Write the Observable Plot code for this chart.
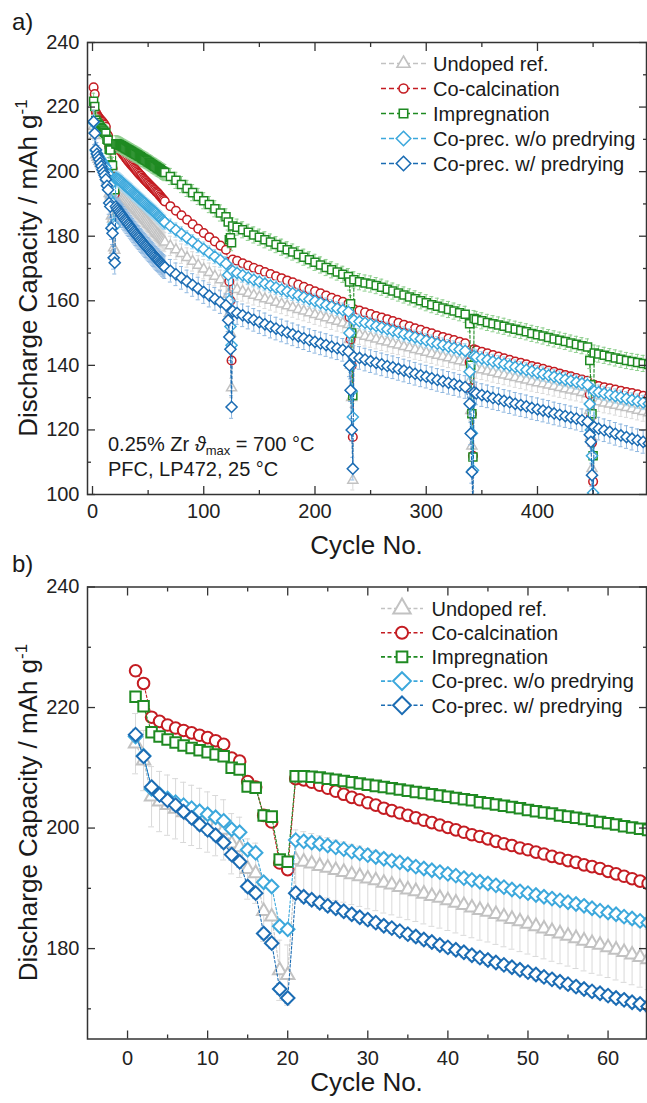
<!DOCTYPE html>
<html><head><meta charset="utf-8">
<script src="https://cdn.jsdelivr.net/npm/d3@7"></script>
<script src="https://cdn.jsdelivr.net/npm/@observablehq/plot@0.6"></script>
<style>
body{margin:0;background:#fff;}
#chart svg{display:block;overflow:visible;}
</style></head><body><div id="chart"></div>
<script>
// ---------- DATA ----------
const seriesNames = ["Undoped ref.", "Co-calcination", "Impregnation", "Co-prec. w/o predrying", "Co-prec. w/ predrying"];

const cyclesEarly = [1,2,3,4,5,6,7,8,9,10,11,12,13,14,15,16,17,18,19,20,21,22,23,24,25,26,27,28,29,30,31,32,33,34,35,36,37,38,39,40,41,42,43,44,45,46,47,48,49,50,51,52,53,54,55,56,57,58,59,60,61,62,63,64,65];

const undopedEarly = [214.0,211.2,205.2,204.4,203.8,203.2,202.6,202.1,201.6,201.0,200.4,199.7,197.4,196.8,193.2,192.5,186.2,185.3,176.4,175.6,
  194.7,194.4,194.1,193.7,193.4,193.0,192.7,192.3,192.0,191.6,191.3,190.9,190.6,190.2,189.8,189.5,189.1,188.7,188.4,188.0,
  187.6,187.2,186.8,186.4,186.1,185.7,185.3,184.9,184.5,184.1,183.7,183.3,182.9,182.5,182.1,181.7,181.3,180.9,180.6,180.2,
  179.8,179.4,179.0,178.6,178.2];
const cocalcEarly = [226.1,224.0,218.4,217.7,217.1,216.6,216.2,215.8,215.4,215.0,214.5,213.9,211.6,211.1,207.7,206.8,202.1,201.0,194.2,193.1,
  208.2,208.0,207.6,207.1,206.6,206.1,205.6,205.1,204.7,204.2,203.8,203.3,202.9,202.5,202.1,201.7,201.3,200.9,200.5,200.1,
  199.7,199.3,198.9,198.6,198.2,197.8,197.4,197.1,196.7,196.4,196.0,195.7,195.3,195.0,194.6,194.3,193.9,193.6,193.3,192.8,
  192.4,192.0,191.6,191.2,190.8];
const impregEarly = [221.8,220.2,215.9,215.2,214.7,214.2,213.7,213.3,212.9,212.6,212.2,211.9,210.0,209.7,206.9,206.7,202.1,201.9,194.8,194.4,
  208.6,208.6,208.5,208.4,208.2,208.0,207.8,207.6,207.4,207.2,207.0,206.8,206.6,206.4,206.2,206.0,205.8,205.6,205.4,205.2,
  205.0,204.8,204.6,204.3,204.1,203.9,203.7,203.5,203.3,203.0,202.8,202.6,202.4,202.1,201.9,201.7,201.5,201.2,201.0,200.8,
  200.6,200.3,200.1,199.9,199.7];
const coprecWoEarly = [215.2,212.0,206.5,205.6,204.9,204.3,203.8,203.3,202.8,202.3,201.8,201.2,199.8,199.3,196.4,195.9,191.0,190.3,183.7,183.2,
  198.0,197.8,197.6,197.4,197.1,196.8,196.5,196.1,195.8,195.5,195.2,194.9,194.6,194.3,194.0,193.6,193.3,193.0,192.7,192.4,
  192.1,191.7,191.4,191.1,190.8,190.5,190.2,189.8,189.5,189.2,188.9,188.6,188.3,188.0,187.7,187.4,187.1,186.7,186.3,186.0,
  185.7,185.3,185.0,184.6,184.3];
const coprecWEarly = [215.5,211.9,206.8,205.5,204.6,203.8,202.7,201.7,200.6,199.7,198.8,197.6,195.6,194.4,190.3,189.2,182.5,180.9,173.3,171.8,
  189.2,188.6,188.1,187.6,187.1,186.7,186.2,185.7,185.2,184.8,184.3,183.8,183.4,182.9,182.4,182.0,181.5,181.1,180.6,180.2,
  179.8,179.4,178.9,178.5,178.1,177.7,177.3,176.9,176.5,176.1,175.7,175.3,174.9,174.5,174.1,173.7,173.3,172.9,172.6,172.2,
  171.8,171.5,171.1,170.8,170.4];

const cyclesLong = [70,75,80,85,90,95,100,105,110,115,120,
  122,123,124,125,
  126,130,135,140,145,150,155,160,165,170,175,180,185,190,195,200,205,210,215,220,225,230,
  231,232,233,234,
  235,240,245,250,255,260,265,270,275,280,285,290,295,300,305,310,315,320,325,330,335,
  339,340,341,342,
  343,345,350,355,360,365,370,375,380,385,390,395,400,405,410,415,420,425,430,435,440,445,
  447,448,449,450,
  451,455,460,465,470,475,480,485,490,495,500];

const undopedLong = [177.0,175.8,174.6,173.4,172.2,171.0,169.8,168.7,167.6,166.5,165.4,
  162.0,156.0,150.0,133.0,
  164.0,163.5,162.9,162.3,161.7,161.2,160.6,160.1,159.5,159.0,158.4,157.9,157.3,156.8,156.3,155.7,155.2,154.7,154.1,153.6,153.1,152.6,
  148.0,140.0,130.0,104.4,
  150.0,149.5,149.0,148.6,148.1,147.6,147.2,146.7,146.3,145.8,145.4,144.9,144.5,144.0,143.6,143.1,142.7,142.3,141.8,141.4,141.0,
  135.0,126.0,115.0,98.0,
  139.4,139.0,138.6,138.2,137.8,137.4,137.0,136.6,136.2,135.8,135.4,135.0,134.6,134.3,133.9,133.5,133.1,132.7,132.3,132.0,131.6,131.2,
  126.0,118.0,108.0,93.0,
  129.0,128.7,128.3,128.0,127.6,127.2,126.9,126.5,126.1,125.7,125.3];
const cocalcLong = [189.3,187.9,186.5,185.1,183.7,182.3,181.0,179.7,178.4,177.1,175.8,
  172.0,166.0,160.0,141.5,
  172.8,172.4,171.6,170.9,170.2,169.6,168.9,168.3,167.6,167.0,166.3,165.7,165.0,164.3,163.6,162.9,162.3,161.6,160.9,160.3,159.7,159.1,
  155.0,148.0,140.0,117.8,
  157.4,157.0,156.4,155.9,155.3,154.8,154.3,153.7,153.2,152.6,152.1,151.5,151.0,150.4,149.9,149.3,148.8,148.3,147.8,147.3,146.8,
  141.0,133.0,125.0,112.0,
  145.0,144.7,144.2,143.7,143.2,142.7,142.2,141.7,141.2,140.8,140.3,139.8,139.4,138.9,138.4,138.0,137.5,137.0,136.6,136.1,135.6,135.2,
  131.0,124.0,116.0,104.0,
  134.0,133.6,133.2,132.9,132.5,132.1,131.7,131.4,131.0,130.6,130.2];
const impregLong = [198.5,197.3,196.0,194.8,193.5,192.3,191.0,189.8,188.5,187.2,186.0,
  184.4,178.9,179.5,178.0,
  183.2,182.8,182.0,181.2,180.4,179.7,178.9,178.2,177.4,176.6,175.8,175.1,174.3,173.5,172.7,171.9,171.1,170.3,169.6,168.9,168.2,167.5,
  165.8,159.1,150.0,130.7,
  166.5,165.9,165.5,165.2,164.7,164.2,163.6,163.0,162.4,161.8,161.2,160.6,160.0,159.4,158.8,158.3,157.8,157.3,156.8,156.3,155.8,
  152.9,140.0,125.0,111.6,
  154.5,154.2,153.8,153.3,152.9,152.5,152.1,151.6,151.2,150.8,150.4,149.9,149.5,149.1,148.6,148.2,147.8,147.4,146.9,146.5,146.1,145.7,
  141.5,134.0,125.0,112.0,
  143.8,143.5,143.1,142.7,142.3,141.9,141.5,141.2,140.9,140.6,140.3];
const coprecWoLong = [183.1,181.9,180.7,179.5,178.3,177.1,176.0,174.8,173.7,172.6,171.5,
  168.0,160.0,152.0,146.2,
  169.2,168.6,167.9,167.2,166.5,165.9,165.3,164.7,164.1,163.5,162.9,162.3,161.7,161.1,160.5,159.9,159.3,158.7,158.2,157.6,157.1,156.6,
  150.0,140.0,132.0,124.0,
  154.0,153.6,153.2,152.7,152.2,151.7,151.2,150.7,150.2,149.7,149.2,148.7,148.2,147.7,147.2,146.7,146.3,145.8,145.4,144.9,144.5,
  138.0,128.0,119.0,107.5,
  142.9,142.6,142.1,141.7,141.2,140.8,140.4,139.9,139.5,139.0,138.6,138.2,137.7,137.3,136.9,136.5,136.0,135.6,135.2,134.8,134.4,134.0,
  128.0,120.0,112.0,100.5,
  132.0,131.7,131.3,130.9,130.5,130.1,129.7,129.3,128.9,128.5,128.1];
const coprecWLong = [169.3,168.2,167.1,166.0,164.9,163.8,162.7,161.6,160.6,159.6,158.6,
  154.0,148.8,145.0,127.1,
  156.8,156.2,155.5,154.8,154.1,153.4,152.7,152.0,151.4,150.8,150.2,149.6,149.0,148.4,147.8,147.3,146.8,146.3,145.8,145.3,144.8,144.3,
  140.0,132.3,120.0,108.0,
  142.6,142.3,141.8,141.3,140.8,140.3,139.8,139.4,138.9,138.4,137.9,137.4,136.9,136.5,136.0,135.5,135.1,134.6,134.2,133.7,133.3,
  128.1,118.9,107.0,96.0,
  131.6,131.3,130.8,130.4,129.9,129.5,129.0,128.6,128.1,127.7,127.3,126.8,126.4,126.0,125.6,125.1,124.7,124.3,123.9,123.5,123.0,122.6,
  118.5,116.3,106.0,95.0,
  120.9,120.4,119.9,119.4,118.8,118.3,117.8,117.3,116.8,116.3,115.8];

// error bar half-widths (mAh/g) per series
const errA = [3.0, 1.2, 2.5, 2.2, 3.5];
const errB = [5.0, 0.6, 0.6, 0.7, 0.9];

// tick values
const xMajorA = [0,100,200,300,400];
const xMinorA = [50,150,250,350,450];
const yMajorA = [100,120,140,160,180,200,220,240];
const yMinorA = [110,130,150,170,190,210,230];
const xMajorB = [0,10,20,30,40,50,60];
const xMinorB = [5,15,25,35,45,55];
const yMajorB = [180,200,220,240];
const yMinorB = [170,190,210,230];

// ---------- STYLE ----------
const colors = ["#c2c2c2", "#c41c22", "#1f8a22", "#3ca8dc", "#1b6cb3"];
const errColors = ["#d9d9d9", "#e58a8c", "#8fcf8f", "#a5d6ef", "#8db6df"];
const symbols = ["triangle2", "circle", "square2", "diamond2", "diamond2"];
const d3Symbols = [d3.symbolTriangle2, d3.symbolCircle, d3.symbolSquare2, d3.symbolDiamond2, d3.symbolDiamond2];
const FONT = "'Liberation Sans', Arial, Helvetica, sans-serif";

// ---------- BUILD ----------
const earlyValues = [undopedEarly, cocalcEarly, impregEarly, coprecWoEarly, coprecWEarly];
const longValues = [undopedLong, cocalcLong, impregLong, coprecWoLong, coprecWLong];
const rowsB = earlyValues.map(vals => cyclesEarly.map((c, j) => ({c, v: vals[j]})));
const rowsA = rowsB.map((rows, i) => rows.concat(cyclesLong.map((c, j) => ({c, v: longValues[i][j]}))));

function makePanel(cfg) {
  const marks = [];
  cfg.rows.forEach((d, i) => {
    const e = cfg.err[i];
    marks.push(Plot.ruleX(d, {x: "c", y1: r => r.v - e, y2: r => r.v + e, stroke: errColors[i], strokeWidth: 1, clip: true}));
    marks.push(Plot.ruleY(d, {y: r => r.v + e, x1: r => r.c - cfg.cap, x2: r => r.c + cfg.cap, stroke: errColors[i], strokeWidth: 1, clip: true}));
    marks.push(Plot.ruleY(d, {y: r => r.v - e, x1: r => r.c - cfg.cap, x2: r => r.c + cfg.cap, stroke: errColors[i], strokeWidth: 1, clip: true}));
    marks.push(Plot.line(d, {x: "c", y: "v", stroke: colors[i], strokeWidth: 1.1, strokeDasharray: cfg.dash, clip: true}));
    marks.push(Plot.dot(d, {x: "c", y: "v", symbol: symbols[i], r: cfg.r[i], stroke: colors[i], strokeWidth: cfg.sw, fill: "white", clip: true}));
  });
  const tk = {stroke: "#333", strokeWidth: 1.3, label: null};
  const blank = () => "";
  marks.push(
    Plot.axisX({...tk, anchor: "bottom", ticks: cfg.xMajor, tickSize: -8, tickPadding: cfg.xPad, tickFormat: d => String(d), fontSize: 20, fill: "#222"}),
    Plot.axisX({...tk, anchor: "bottom", ticks: cfg.xMinor, tickSize: -4, tickFormat: blank}),
    Plot.axisX({...tk, anchor: "top", ticks: cfg.xMajor, tickSize: -8, tickFormat: blank}),
    Plot.axisX({...tk, anchor: "top", ticks: cfg.xMinor, tickSize: -4, tickFormat: blank}),
    Plot.axisY({...tk, anchor: "left", ticks: cfg.yMajor, tickSize: -8, tickPadding: 16, tickFormat: d => String(d), fontSize: 20, fill: "#222"}),
    Plot.axisY({...tk, anchor: "left", ticks: cfg.yMinor, tickSize: -4, tickFormat: blank}),
    Plot.axisY({...tk, anchor: "right", ticks: cfg.yMajor, tickSize: -8, tickFormat: blank}),
    Plot.axisY({...tk, anchor: "right", ticks: cfg.yMinor, tickSize: -4, tickFormat: blank}),
    Plot.frame({stroke: "#333", strokeWidth: 1.5})
  );
  return Plot.plot({
    width: 647, height: cfg.height,
    marginLeft: 87, marginRight: 1, marginTop: cfg.mt, marginBottom: cfg.mb,
    x: {domain: cfg.xd, axis: null},
    y: {domain: cfg.yd, axis: null},
    style: {fontFamily: FONT, fontSize: "20px", color: "#222", background: "transparent", overflow: "visible"},
    marks
  });
}

function decorate(svgNode, cfg) {
  const svg = d3.select(svgNode);
  const g = svg.append("g").attr("font-family", FONT).attr("fill", "#1a1a1a").attr("text-anchor", "start");
  // panel letter
  g.append("text").attr("x", 12).attr("y", cfg.letterY).attr("font-size", 24).text(cfg.letter);
  // y title
  const yt = g.append("text").attr("transform", `translate(37,${cfg.yMid}) rotate(-90)`)
    .attr("text-anchor", "middle").attr("font-size", 26);
  yt.append("tspan").text("Discharge Capacity / mAh g");
  yt.append("tspan").attr("dy", -10).attr("font-size", 17).text("-1");
  // x title
  g.append("text").attr("x", 366.5).attr("y", cfg.xTitleY).attr("text-anchor", "middle")
    .attr("font-size", 26).text("Cycle No.");
  // legend
  seriesNames.forEach((name, i) => {
    const y = cfg.legY0 + cfg.legDy * i;
    g.append("line").attr("x1", cfg.legX1).attr("x2", cfg.legX2).attr("y1", y).attr("y2", y)
      .attr("stroke", colors[i]).attr("stroke-width", 1.6).attr("stroke-dasharray", cfg.legDash);
    g.append("path").attr("d", d3.symbol(d3Symbols[i], Math.PI * cfg.legR[i] * cfg.legR[i])())
      .attr("transform", `translate(${cfg.legMx},${y})`)
      .attr("fill", "white").attr("stroke", colors[i]).attr("stroke-width", cfg.legSw);
    g.append("text").attr("x", cfg.legTx).attr("y", y + 7.2).attr("font-size", 20).text(name);
  });
}

const chart = document.getElementById("chart");

const svgA = makePanel({
  rows: rowsA, err: errA, cap: 1.8, dash: "3,2", sw: 1.5,
  r: [4.8, 4.3, 5.1, 5.0, 5.0],
  height: 545, mt: 42, mb: 51, xd: [-4.5, 498], yd: [100, 240],
  xMajor: xMajorA, xMinor: xMinorA, yMajor: yMajorA, yMinor: yMinorA, xPad: 17
});
chart.appendChild(svgA);
decorate(svgA, {
  letter: "a)", letterY: 29.5, yMid: 268, xTitleY: 554,
  legY0: 63.5, legDy: 25, legX1: 381, legX2: 426, legMx: 403.5, legTx: 433,
  legR: [6.2, 4.5, 5.4, 6.5, 6.5], legSw: 1.6, legDash: "5,3"
});
// annotation text in panel a
{
  const g = d3.select(svgA).append("g").attr("font-family", FONT).attr("fill", "#1a1a1a")
    .attr("font-size", 20).attr("text-anchor", "start");
  const t1 = g.append("text").attr("x", 108).attr("y", 451);
  t1.append("tspan").text("0.25% Zr ");
  t1.append("tspan").attr("font-style", "italic").text("\u03D1");
  t1.append("tspan").attr("font-size", 13).attr("dy", 4).text("max");
  t1.append("tspan").attr("dy", -4).text(" = 700 \u00B0C");
  g.append("text").attr("x", 108).attr("y", 476).text("PFC, LP472, 25 \u00B0C");
}

const svgB = makePanel({
  rows: rowsB, err: errB, cap: 0.37, dash: "2.5,2", sw: 2,
  r: [6.4, 5.8, 6.7, 6.1, 6.1],
  height: 558, mt: 41.5, mb: 64.5, xd: [-5, 64.8], yd: [165, 240],
  xMajor: xMajorB, xMinor: xMinorB, yMajor: yMajorB, yMinor: yMinorB, xPad: 20
});
chart.appendChild(svgB);
decorate(svgB, {
  letter: "b)", letterY: 27, yMid: 267.5, xTitleY: 546,
  legY0: 63.5, legDy: 24.2, legX1: 381, legX2: 423, legMx: 402, legTx: 431.5,
  legR: [8.3, 6.0, 6.8, 8.0, 8.0], legSw: 2, legDash: "4,2.5"
});
</script></body></html>
